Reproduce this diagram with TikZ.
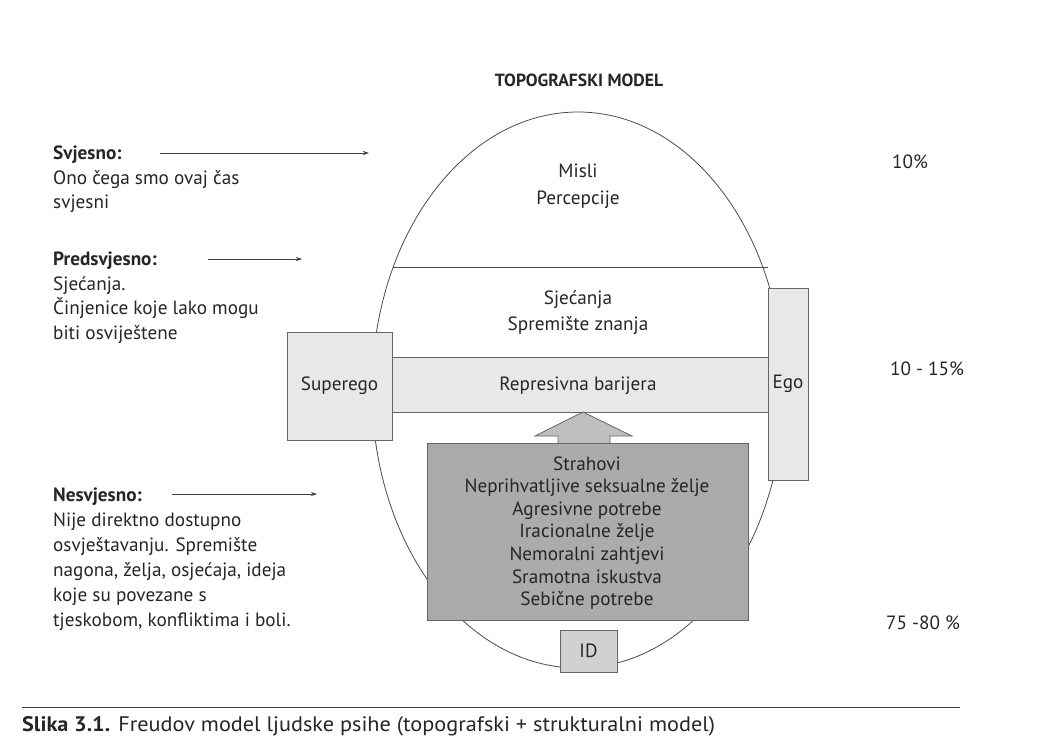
\documentclass[tikz,border=0pt]{standalone}
\usepackage{fontspec}
\usetikzlibrary{arrows.meta}
\setmainfont{PT Sans}
\begin{document}
\begin{tikzpicture}[x=1pt,y=-1pt,
  txt/.style={font=\fontsize{19.2}{24}\selectfont, text=black!85, inner sep=0pt},
  lbl/.style={txt, align=left, anchor=north west},
  boxl/.style={draw=black!60, fill=black!9, line width=0.8pt, inner sep=0pt, font=\fontsize{19.2}{24}\selectfont, text=black!85},
  boxd/.style={draw=black!60, fill=black!33, line width=0.8pt, inner sep=0pt},
  pointer/.style={-{Stealth[length=6pt,width=4pt]}, line width=0.6pt, draw=black!75}]
\useasboundingbox (0,0) rectangle (1056,740);
\fill[white] (0,0) rectangle (1056,740);
% title
\node[txt, font=\fontsize{17.6}{20}\selectfont\bfseries] (title) at (579,80) {TOPOGRAFSKI MODEL};
% ellipse
\draw[black!70, line width=0.8pt] (578,390) ellipse [x radius=206pt, y radius=278pt];
% boxes
\node[boxl, minimum width=40pt, minimum height=192pt] (ego) at (788,384) {};
\node[txt] at (ego) {Ego};
\node[boxl, minimum width=376pt, minimum height=55pt] (bar) at (580,384.5) {};
\node[txt] at (578,386) {Represivna barijera};
\node[boxl, minimum width=105pt, minimum height=108pt] (superego) at (339.5,386) {Superego};
\coordinate (lineL) at (393,267);
\draw[black!70, line width=0.8pt] (lineL) -- (lineL -| ego.west);
% arrow
\draw[black!60, fill=black!25, line width=0.8pt] (558,444) -- (558,436) -- (535,436) -- (583,412) -- (632,436) -- (610,436) -- (610,444);
\node[boxd, minimum width=321pt, minimum height=177pt] (id) at (587.5,531.5) {};
\node[txt, align=center, font=\fontsize{19.2}{22.6}\selectfont] at (587,533) {Strahovi\\Neprihvatljive seksualne želje\\Agresivne potrebe\\Iracionalne želje\\Nemoralni zahtjevi\\Sramotna iskustva\\Sebične potrebe};
\node[boxl, fill=black!18, minimum width=57pt, minimum height=42pt] (idbox) at (588.5,651) {ID};
% inner texts
\node[txt, align=center, font=\fontsize{19.2}{27}\selectfont] (svj) at (578,186) {Misli\\Percepcije};
\node[txt, align=center, font=\fontsize{19.2}{26}\selectfont] (pred) at (578,313) {Sjećanja\\Spremište znanja};
% percentages
\node[txt] (p1) at (910,162) {10\%};
\node[txt] (p2) at (927,369) {10 - 15\%};
\node[txt] (p3) at (923,623) {75 -80 \%};
% left labels
\node[lbl, font=\fontsize{19.2}{24.5}\selectfont] (l1) at (53,146) {\textbf{Svjesno:}\\Ono čega smo ovaj čas\\svjesni};
\node[lbl, font=\fontsize{19.2}{24.5}\selectfont] (l2) at (53,252) {\textbf{Predsvjesno:}\\Sjećanja.\\Činjenice koje lako mogu\\biti osviještene};
\node[lbl, font=\fontsize{19.2}{25}\selectfont] (l3) at (53,488) {\textbf{Nesvjesno:}\\Nije direktno dostupno\\osvještavanju. Spremište\\nagona, želja, osjećaja, ideja\\koje su povezane s\\tjeskobom, konfliktima i boli.};
\coordinate (a1s) at (160,153); \coordinate (a1e) at (369,153);
\coordinate (a2s) at (208,259); \coordinate (a2e) at (302,259);
\coordinate (a3s) at (172,494); \coordinate (a3e) at (317,494);
\draw[pointer] (a1s) -- (a1e);
\draw[pointer] (a2s) -- (a2e);
\draw[pointer] (a3s) -- (a3e);
% caption
\coordinate (c1) at (22,707); \coordinate (c2) at (960,707);
\draw[black!75, line width=0.8pt] (c1) -- (c2);
\node[txt, anchor=west, font=\fontsize{21}{24}\selectfont] (cap) at (22,726) {\scalebox{1.06}[1]{\textbf{Slika 3.1.} Freudov model ljudske psihe (topografski + strukturalni model)}};
\end{tikzpicture}
\end{document}
